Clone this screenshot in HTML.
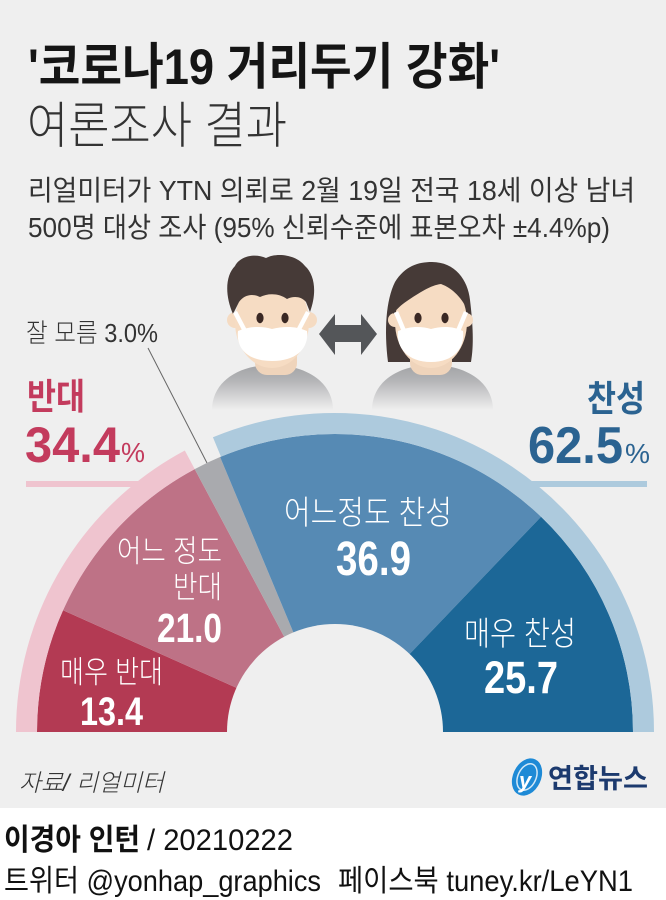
<!DOCTYPE html>
<html><head><meta charset="utf-8"><style>
html,body{margin:0;padding:0;background:#fff;}
svg{display:block;}
</style></head><body>
<svg width="666" height="900" viewBox="0 0 666 900" xmlns="http://www.w3.org/2000/svg" font-family="'Liberation Sans','Noto Sans CJK KR',sans-serif">
<defs>
<linearGradient id="bd" x1="0" y1="0" x2="0" y2="1">
<stop offset="0" stop-color="#a2a3a6"/><stop offset="0.35" stop-color="#b4b5b7"/><stop offset="1" stop-color="#efefef"/>
</linearGradient>
</defs>
<rect x="0" y="0" width="666" height="808" fill="#efefef"/>
<rect x="0" y="808" width="666" height="92" fill="#ffffff"/>

<!-- Titles -->
<text x="28" y="84" font-size="50" font-weight="700" fill="#151515" textLength="472" lengthAdjust="spacingAndGlyphs">'코로나19 거리두기 강화'</text>
<text x="27" y="143" font-size="50" font-weight="300" fill="#333" textLength="260" lengthAdjust="spacingAndGlyphs">여론조사 결과</text>
<text x="28" y="200" font-size="28" font-weight="400" fill="#333" textLength="607" lengthAdjust="spacingAndGlyphs">리얼미터가 YTN 의뢰로 2월 19일 전국 18세 이상 남녀</text>
<text x="28" y="237" font-size="28" font-weight="400" fill="#333" textLength="582" lengthAdjust="spacingAndGlyphs">500명 대상 조사 (95% 신뢰수준에 표본오차 ±4.4%p)</text>

<!-- Man -->
<path d="M212,410 C212,382 238,365 272,365 C306,365 333,382 333,410 Z" fill="url(#bd)"/>
<rect x="255" y="345" width="42" height="30" rx="12" fill="#efd4bb"/>
<circle cx="235" cy="320" r="8" fill="#f5dbc2"/>
<circle cx="309" cy="320" r="8" fill="#f5dbc2"/>
<ellipse cx="272" cy="322" rx="37" ry="46" fill="#f6dcc3"/>
<path d="M233,314 C225,296 225,276 235,266 C240,256 255,253 266,258 C277,252 297,255 305,266 C315,275 317,293 310,312 L306,302 C301,296 293,296 287,299 C279,293 268,293 260,297 C252,293 244,295 239,302 Z" fill="#463a37"/>
<ellipse cx="260" cy="318" rx="3.6" ry="5.2" fill="#3a2824"/>
<ellipse cx="285" cy="318" rx="3.6" ry="5.2" fill="#3a2824"/>
<line x1="235" y1="312" x2="245" y2="331" stroke="#fff" stroke-width="4.5"/>
<line x1="308" y1="312" x2="298" y2="331" stroke="#fff" stroke-width="4.5"/>
<path d="M238,331 C250,326 262,326 272,329 C284,326 296,326 307,331 C309,347 298,361 272,361 C246,361 236,347 238,331 Z" fill="#ffffff"/>

<!-- Arrow -->
<polygon points="319,334 335,314 335,325 361,325 361,314 377,334 361,355 361,342 335,342 335,355" fill="#545659"/>

<!-- Woman -->
<path d="M388,362 C384,330 386,300 395,282 C405,266 418,262 432,262 C455,262 468,280 470,300 C473,325 474,345 471,362 Z" fill="#463a37"/>
<path d="M372,410 C372,382 398,365 432,365 C466,365 493,382 493,410 Z" fill="url(#bd)"/>
<rect x="410" y="345" width="42" height="30" rx="12" fill="#efd4bb"/>
<circle cx="395" cy="320" r="7" fill="#f5dbc2"/>
<circle cx="466" cy="320" r="7" fill="#f5dbc2"/>
<ellipse cx="431" cy="322" rx="36" ry="46" fill="#f6dcc3"/>
<path d="M393,314 C394,286 410,266 432,265 C455,265 470,285 469,314 C463,298 452,288 441,284 C431,285 419,293 407,301 C401,305 397,309 393,314 Z" fill="#463a37"/>
<ellipse cx="418" cy="318" rx="3.6" ry="5.2" fill="#3a2824"/>
<ellipse cx="445" cy="318" rx="3.6" ry="5.2" fill="#3a2824"/>
<line x1="396" y1="312" x2="404" y2="331" stroke="#fff" stroke-width="4.5"/>
<line x1="466" y1="312" x2="458" y2="331" stroke="#fff" stroke-width="4.5"/>
<path d="M398,331 C410,326 421,326 431,329 C442,326 453,326 463,331 C465,348 454,362 431,362 C408,362 396,348 398,331 Z" fill="#ffffff"/>

<!-- Side labels -->
<text x="26" y="342" font-size="26" font-weight="300" fill="#333" textLength="132" lengthAdjust="spacingAndGlyphs">잘 모름 3.0%</text>
<line x1="148" y1="348" x2="207" y2="463" stroke="#666" stroke-width="1"/>

<text x="27" y="409" font-size="36" font-weight="700" fill="#c33b5d" textLength="58" lengthAdjust="spacingAndGlyphs">반대</text>
<text x="25" y="462" font-size="50" font-weight="700" fill="#c33b5d" textLength="95" lengthAdjust="spacingAndGlyphs">34.4</text>
<text x="121" y="462" font-size="28" font-weight="400" fill="#c33b5d" textLength="24" lengthAdjust="spacingAndGlyphs">%</text>
<rect x="26" y="481" width="115" height="6" fill="#efc4cf"/>

<text x="587" y="411" font-size="36" font-weight="700" fill="#2b6391" textLength="58" lengthAdjust="spacingAndGlyphs">찬성</text>
<text x="528" y="463" font-size="52" font-weight="700" fill="#2b6391" textLength="95" lengthAdjust="spacingAndGlyphs">62.5</text>
<text x="625" y="463" font-size="28" font-weight="400" fill="#2b6391" textLength="25" lengthAdjust="spacingAndGlyphs">%</text>
<rect x="530" y="481" width="117" height="6" fill="#adcadd"/>

<!-- Pie -->
<path d="M335,732 L37,732 A298,298 0 0 1 63.01,610.22 Z" fill="#b33a53"/>
<path d="M335,732 L63.01,610.22 A298,298 0 0 1 194.73,469.07 Z" fill="#be7286"/>
<path d="M335,732 L194.73,469.07 A298,298 0 0 1 220.09,457.04 Z" fill="#a9aaae"/>
<path d="M335,732 L220.09,457.04 A298,298 0 0 1 541.04,516.70 Z" fill="#568ab4"/>
<path d="M335,732 L541.04,516.70 A298,298 0 0 1 633,732 Z" fill="#1c6797"/>
<path d="M26.5,732 A308.5,308.5 0 0 1 189.77,459.82" fill="none" stroke="#efc4cf" stroke-width="21"/>
<path d="M216.94,446.98 A308.5,308.5 0 0 1 643.5,732" fill="none" stroke="#adcadd" stroke-width="21"/>
<path d="M227,732 A108,108 0 0 1 443,732 Z" fill="#efefef"/>

<!-- Pie labels -->
<text x="284" y="524" font-size="33" font-weight="300" fill="#fff" textLength="168" lengthAdjust="spacingAndGlyphs">어느정도 찬성</text>
<text x="336" y="575" font-size="48" font-weight="700" fill="#fff" textLength="75" lengthAdjust="spacingAndGlyphs">36.9</text>
<text x="464" y="645" font-size="33" font-weight="300" fill="#fff" textLength="112" lengthAdjust="spacingAndGlyphs">매우 찬성</text>
<text x="484" y="693" font-size="45" font-weight="700" fill="#fff" textLength="74" lengthAdjust="spacingAndGlyphs">25.7</text>

<text x="117" y="562" font-size="31" font-weight="300" fill="#fff" textLength="105" lengthAdjust="spacingAndGlyphs">어느 정도</text>
<text x="173" y="598" font-size="31" font-weight="300" fill="#fff" textLength="49" lengthAdjust="spacingAndGlyphs">반대</text>
<text x="157" y="642" font-size="41" font-weight="700" fill="#fff" textLength="65" lengthAdjust="spacingAndGlyphs">21.0</text>
<text x="60" y="683" font-size="31" font-weight="300" fill="#fff" textLength="103" lengthAdjust="spacingAndGlyphs">매우 반대</text>
<text x="80" y="725" font-size="40" font-weight="700" fill="#fff" textLength="63" lengthAdjust="spacingAndGlyphs">13.4</text>

<!-- Source & logo -->
<text x="19" y="791" font-size="24" font-style="italic" font-weight="300" fill="#333" textLength="145" lengthAdjust="spacingAndGlyphs">자료/ 리얼미터</text>
<g transform="rotate(25 527 777)">
<ellipse cx="527" cy="777" rx="14" ry="19.5" fill="#1e8ad6"/>
<ellipse cx="527" cy="777" rx="9" ry="14" fill="none" stroke="#ffffff" stroke-width="1.5" opacity="0.8"/>
</g>
<text x="519" y="788" font-size="22" font-style="italic" font-weight="700" fill="#ffffff">y</text>
<text x="548" y="788" font-size="27" font-weight="700" fill="#1c3a6e" textLength="100" lengthAdjust="spacingAndGlyphs">연합뉴스</text>

<!-- Footer -->
<text x="4" y="850" font-size="30" font-weight="700" fill="#111" textLength="136" lengthAdjust="spacingAndGlyphs">이경아 인턴</text>
<text x="147" y="850" font-size="30" font-weight="400" fill="#111" textLength="146" lengthAdjust="spacingAndGlyphs">/ 20210222</text>
<text x="4" y="891" font-size="30" font-weight="400" fill="#111" textLength="317" lengthAdjust="spacingAndGlyphs">트위터 @yonhap_graphics</text>
<text x="338" y="891" font-size="30" font-weight="400" fill="#111" textLength="295" lengthAdjust="spacingAndGlyphs">페이스북 tuney.kr/LeYN1</text>
</svg>
</body></html>
